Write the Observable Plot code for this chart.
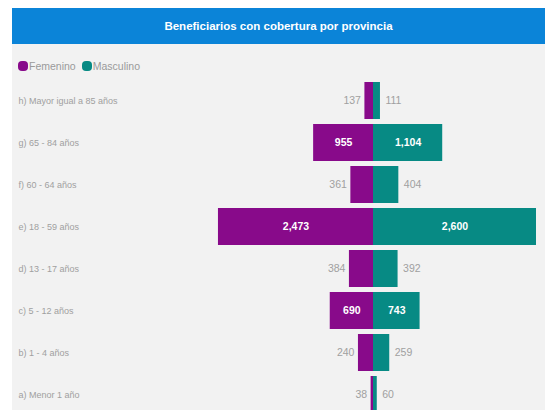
<!DOCTYPE html>
<html>
<head>
<meta charset="utf-8">
<script src="https://cdn.jsdelivr.net/npm/d3@7"></script>
<script src="https://cdn.jsdelivr.net/npm/@observablehq/plot@0.6"></script>
<style>
  html, body { margin: 0; padding: 0; background: #ffffff; width: 545px; height: 410px; overflow: hidden; font-family: "Liberation Sans", Arial, sans-serif; }
  #title { position: absolute; left: 12px; top: 8px; width: 533px; height: 36px; background: #0b84d8; color: #fff; font-weight: bold; font-size: 11.5px; line-height: 36px; text-align: center; }
  #panel { position: absolute; left: 12px; top: 44px; width: 533px; height: 366px; background: #f2f2f2; }
  #legend { position: absolute; left: 18px; top: 60px; font-size: 10.5px; color: #9a9a9a; display: flex; align-items: center; }
  #legend span.sw { display: inline-block; width: 10px; height: 10px; border-radius: 4px; margin-right: 1px; }
  #legend span.lab { margin-right: 6px; }
  #chart { position: absolute; left: 12px; top: 76px; }
</style>
</head>
<body>
<div id="title">Beneficiarios con cobertura por provincia</div>
<div id="panel"></div>
<div id="legend"></div>
<div id="chart"></div>
<script>
const categories = [
  "h) Mayor igual a 85 años",
  "g) 65 - 84 años",
  "f) 60 - 64 años",
  "e) 18 - 59 años",
  "d) 13 - 17 años",
  "c) 5 - 12 años",
  "b) 1 - 4 años",
  "a) Menor 1 año"
];
const femenino = [137, 955, 361, 2473, 384, 690, 240, 38];
const masculino = [111, 1104, 404, 2600, 392, 743, 259, 60];
const seriesNames = ["Femenino", "Masculino"];
const seriesColors = ["#880a8a", "#078a84"];

const data = [];
categories.forEach((c, i) => {
  data.push({cat: c, sex: "Femenino", value: femenino[i], signed: -femenino[i]});
  data.push({cat: c, sex: "Masculino", value: masculino[i], signed: masculino[i]});
});

const leg = document.getElementById("legend");
seriesNames.forEach((s, i) => {
  const sw = document.createElement("span"); sw.className = "sw"; sw.style.background = seriesColors[i];
  const lab = document.createElement("span"); lab.className = "lab"; lab.textContent = s;
  leg.appendChild(sw); leg.appendChild(lab);
});

const threshold = 600;
const fmt = d3.format(",");
const inside = data.filter(d => d.value >= threshold);
const outLeft = data.filter(d => d.value < threshold && d.signed < 0);
const outRight = data.filter(d => d.value < threshold && d.signed > 0);

const chart = Plot.plot({
  width: 533,
  height: 342,
  marginLeft: 198,
  marginRight: 9,
  marginTop: 0,
  marginBottom: 0,
  style: {background: "transparent", fontFamily: "'Liberation Sans', Arial, sans-serif"},
  x: {domain: [-2600, 2600], axis: null},
  y: {domain: categories, padding: 0.13, axis: null},
  color: {domain: seriesNames, range: seriesColors},
  marks: [
    Plot.barX(data, {x1: 0, x2: "signed", y: "cat", fill: "sex"}),
    Plot.text(categories, {y: d => d, frameAnchor: "left", dx: -192, textAnchor: "start", text: d => d, fill: "#a0a0a0", fontSize: 9}),
    Plot.text(inside, {x: d => d.signed / 2, y: "cat", text: d => fmt(d.value), fill: "#ffffff", fontWeight: "bold", fontSize: 10.5}),
    Plot.text(outLeft, {x: "signed", y: "cat", text: d => fmt(d.value), fill: "#a0a0a0", fontSize: 10.5, textAnchor: "end", dx: -4}),
    Plot.text(outRight, {x: "signed", y: "cat", text: d => fmt(d.value), fill: "#a0a0a0", fontSize: 10.5, textAnchor: "start", dx: 5})
  ]
});
document.getElementById("chart").appendChild(chart);
</script>
</body>
</html>
